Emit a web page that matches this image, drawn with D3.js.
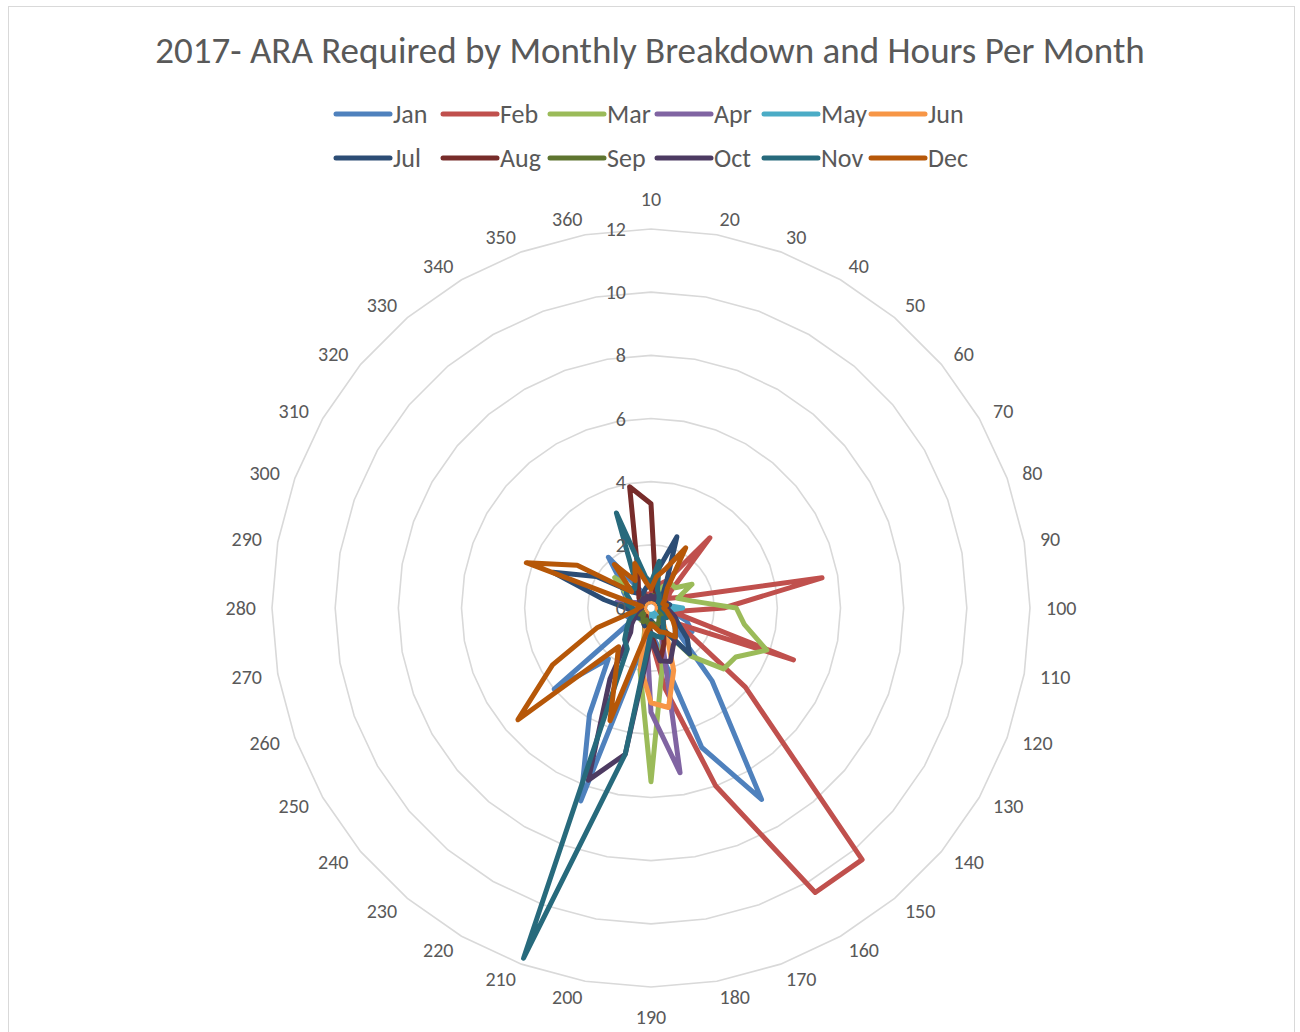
<!DOCTYPE html>
<html>
<head>
<meta charset="utf-8">
<script src="https://cdn.jsdelivr.net/npm/d3@7"></script>
<style>
  body { margin: 0; background: #fff; }
  svg { display: block; font-family: Carlito, Calibri, Lato, sans-serif; }
</style>
</head>
<body>
<svg id="chart" width="1300" height="1032"></svg>
<script>
// radar chart: 36 directions, one closed line per month

const categories = d3.range(10, 361, 10).map(String);
const radialTicks = [0, 2, 4, 6, 8, 10, 12];
const months = ["Jan", "Feb", "Mar", "Apr", "May", "Jun", "Jul", "Aug", "Sep", "Oct", "Nov", "Dec"];
const monthColors = ["#4F81BD", "#C0504D", "#9BBB59", "#8064A2", "#4BACC6", "#F79646",
  "#2C4D75", "#772C2A", "#5F7530", "#4D3B62", "#276A7C", "#B65708"];

const jan = [0.3, 0.5, 0.3, 0.4, 0.3, 0.5, 0.3, 0.4, 0.3, 0.5, 0.7, 1.2, 1.5, 1.0, 3.0, 7.0, 4.7, 1.2,
  0.8, 1.0, 6.5, 3.9, 2.1, 4.0, 0.5, 0.8, 0.5, 0.4, 0.6, 0.8, 1.0, 1.2, 2.1, 0.6, 0.4, 0.3];
const feb = [0.5, 0.6, 0.8, 1.0, 2.9, 0.8, 0.6, 1.0, 5.5, 2.3, 0.7, 4.8, 1.0, 3.9, 10.4, 10.4, 6.0, 2.6,
  1.0, 1.2, 0.6, 0.5, 0.4, 0.3, 0.3, 0.4, 0.3, 0.3, 0.4, 0.3, 0.3, 0.3, 0.4, 0.3, 0.5, 0.4];
const mar = [0.3, 0.4, 0.5, 0.8, 1.0, 1.0, 1.5, 0.9, 1.3, 2.7, 3.0, 3.9, 3.1, 3.0, 2.0, 0.8, 1.0, 2.0,
  5.5, 2.0, 0.5, 0.3, 0.5, 0.3, 0.2, 0.3, 0.4, 0.3, 0.5, 0.8, 0.9, 1.5, 0.6, 0.4, 0.3, 0.3];
const apr = [0.3, 0.2, 0.3, 0.2, 0.3, 0.2, 0.3, 0.4, 0.3, 0.2, 0.3, 0.4, 0.5, 0.4, 0.5, 0.5, 1.0, 5.3,
  3.3, 0.8, 0.5, 0.3, 0.4, 0.3, 0.2, 0.3, 0.4, 0.6, 1.1, 0.5, 0.3, 0.2, 0.3, 0.2, 0.3, 0.2];
const may = [0.3, 0.2, 0.3, 0.2, 0.3, 0.3, 0.4, 0.4, 0.5, 1.0, 0.5, 0.3, 0.2, 0.3, 0.2, 0.3, 0.2, 0.3,
  0.2, 0.3, 0.2, 0.3, 0.2, 0.3, 0.2, 0.3, 0.2, 0.3, 0.2, 0.3, 0.2, 0.3, 0.2, 0.3, 0.2, 0.3];
const jun = [0.2, 0.3, 0.2, 0.3, 0.2, 0.3, 0.2, 0.3, 0.2, 0.3, 0.2, 0.3, 0.4, 0.5, 0.6, 1.0, 2.1, 3.2,
  3.0, 1.9, 0.4, 0.3, 0.2, 0.3, 0.2, 0.3, 0.2, 0.3, 0.2, 0.3, 0.2, 0.3, 0.2, 0.3, 0.2, 0.3];
const jul = [0.8, 1.2, 2.4, 1.0, 0.6, 0.5, 0.4, 0.5, 0.6, 0.5, 0.6, 0.8, 1.0, 1.5, 1.9, 0.8, 0.6, 0.5,
  0.4, 0.5, 0.6, 0.5, 0.4, 0.5, 0.6, 0.5, 0.6, 0.8, 1.5, 3.3, 2.0, 0.8, 0.6, 0.5, 0.6, 0.7];
const aug = [3.3, 0.8, 0.4, 0.3, 0.4, 0.3, 0.4, 0.3, 0.4, 0.3, 0.4, 0.3, 0.4, 0.5, 0.6, 0.8, 1.2, 1.7,
  0.8, 0.5, 0.4, 0.3, 0.4, 0.3, 0.4, 0.3, 0.4, 0.3, 0.4, 0.3, 0.4, 0.5, 0.6, 0.8, 1.2, 3.9];
const sep = [0.3, 0.4, 0.3, 0.5, 0.4, 0.3, 0.4, 0.3, 0.4, 0.5, 0.4, 0.3, 0.4, 0.5, 0.4, 0.5, 0.6, 0.5,
  0.6, 0.5, 0.4, 0.5, 0.4, 0.3, 0.4, 0.3, 0.4, 0.3, 0.4, 0.3, 0.4, 0.3, 0.4, 0.3, 0.4, 0.3];
const oct = [0.4, 0.3, 0.4, 0.3, 0.4, 0.3, 0.4, 0.5, 0.4, 0.5, 0.6, 0.8, 0.9, 1.0, 1.2, 1.4, 1.8, 1.7,
  1.0, 4.7, 5.8, 2.6, 1.0, 0.8, 0.6, 0.5, 0.4, 0.3, 0.4, 0.3, 0.4, 0.3, 0.4, 0.3, 0.4, 0.3];
const nov = [0.8, 1.5, 0.6, 0.5, 0.4, 0.3, 0.4, 0.3, 0.4, 0.3, 0.4, 0.5, 0.6, 0.5, 0.6, 0.8, 1.0, 0.9,
  0.8, 4.7, 11.8, 1.5, 1.3, 1.0, 0.8, 0.6, 0.5, 0.6, 0.8, 0.7, 0.9, 1.0, 0.8, 1.0, 3.2, 1.0];
const dec = [0.6, 1.0, 1.3, 2.2, 0.8, 0.6, 0.5, 0.4, 0.5, 0.4, 0.5, 0.6, 0.8, 1.0, 1.2, 0.9, 0.8, 0.6,
  0.5, 0.8, 3.8, 2.2, 1.6, 5.5, 3.6, 1.8, 0.5, 0.4, 0.3, 4.2, 2.7, 0.8, 1.8, 1.0, 1.5, 0.8];

const seriesValues = [jan, feb, mar, apr, may, jun, jul, aug, sep, oct, nov, dec];

const svg = d3.select("#chart");
const width = 1300;
const cx = 651, cy = 608, outer = 379;
const labelR = 395;
const textColor = "#595959";

// chart area border
svg.append("rect")
  .attr("x", 8.5).attr("y", 6.5)
  .attr("width", 1286).attr("height", 1040)
  .attr("fill", "#fff")
  .attr("stroke", "#D9D9D9");

svg.append("text")
  .attr("x", width / 2).attr("y", 50)
  .attr("text-anchor", "middle")
  .attr("dominant-baseline", "central")
  .attr("fill", textColor)
  .style("font-size", "37px")
  .text("2017- ARA Required by Monthly Breakdown and Hours Per Month");

// legend, two rows of six
const legend = svg.append("g");
months.forEach((m, i) => {
  const x = 336 + (i % 6) * 107;
  const y = i < 6 ? 114 : 158;
  const item = legend.append("g").attr("transform", `translate(${x},${y})`);
  item.append("line")
    .attr("x1", 0).attr("x2", 54)
    .attr("stroke", monthColors[i])
    .attr("stroke-width", 5)
    .attr("stroke-linecap", "round");
  item.append("text")
    .attr("x", 57)
    .attr("dominant-baseline", "central")
    .attr("fill", textColor)
    .style("font-size", "26px")
    .text(m);
});

const r = d3.scaleLinear().domain([0, 12]).range([0, outer]);
const step = (2 * Math.PI) / categories.length;
const angleOf = (i) => i * step;

const g = svg.append("g").attr("transform", `translate(${cx},${cy})`);

// grid rings (polygons)
const ring = d3.lineRadial()
  .angle((d, i) => angleOf(i))
  .radius((d) => r(d))
  .curve(d3.curveLinearClosed);

g.append("g")
  .selectAll("path")
  .data(radialTicks.filter((t) => t > 0))
  .join("path")
  .attr("d", (t) => ring(categories.map(() => t)))
  .attr("fill", "none")
  .attr("stroke", "#D9D9D9")
  .attr("stroke-width", 1.6);

// category labels, boxed outside the ring like the spreadsheet does
g.append("g")
  .selectAll("text")
  .data(categories)
  .join("text")
  .attr("x", (d, i) => Math.sin(angleOf(i)) * labelR)
  .attr("y", (d, i) => {
    const c = Math.cos(angleOf(i));
    if (Math.abs(c) > 0.999) return -c * labelR - Math.sign(c) * 14;
    return -c * labelR;
  })
  .attr("text-anchor", (d, i) => {
    const s = Math.sin(angleOf(i));
    if (Math.abs(s) < 0.001) return "middle";
    return s > 0 ? "start" : "end";
  })
  .attr("dominant-baseline", "central")
  .attr("fill", textColor)
  .style("font-size", "20px")
  .text((d) => d);

// series lines
const line = d3.lineRadial()
  .angle((d, i) => angleOf(i))
  .radius((d) => r(d))
  .curve(d3.curveLinearClosed);

g.append("g")
  .selectAll("path")
  .data(seriesValues)
  .join("path")
  .attr("d", (d) => line(d))
  .attr("fill", "none")
  .attr("stroke", (d, i) => monthColors[i])
  .attr("stroke-width", 5)
  .attr("stroke-linejoin", "round")
  .attr("stroke-linecap", "round");

// value axis labels
g.append("g")
  .selectAll("text")
  .data(radialTicks)
  .join("text")
  .attr("x", -25)
  .attr("y", (d) => -r(d))
  .attr("text-anchor", "end")
  .attr("dominant-baseline", "central")
  .attr("fill", textColor)
  .style("font-size", "20px")
  .text((d) => d);
</script>
</body>
</html>
